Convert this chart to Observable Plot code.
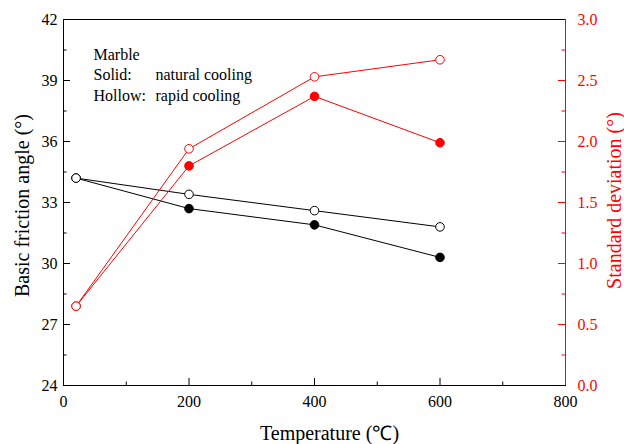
<!DOCTYPE html>
<html>
<head>
<meta charset="utf-8">
<script src="https://cdn.jsdelivr.net/npm/d3@7"></script>
<script src="https://cdn.jsdelivr.net/npm/@observablehq/plot@0.6"></script>
<style>
  html, body { margin: 0; padding: 0; background: #fff; }
</style>
</head>
<body>
<div id="chart"></div>
<script>
// Data
const temps = [20, 200, 400, 600];
// Basic friction angle (°), left axis
const angleNatural = [34.2, 32.7, 31.9, 30.3]; // solid black
const angleRapid   = [34.2, 33.4, 32.6, 31.8]; // hollow black
// Standard deviation (°), right axis
const sdNatural = [0.65, 1.80, 2.37, 1.99];    // solid red
const sdRapid   = [0.65, 1.94, 2.53, 2.67];    // hollow red

const xMajor = [0, 200, 400, 600, 800];
const xMinor = [100, 300, 500, 700];
const yMajor = [24, 27, 30, 33, 36, 39, 42];
const yMinor = [25.5, 28.5, 31.5, 34.5, 37.5, 40.5];

const annoLeft = ["Marble", "Solid:", "Hollow:"];
const annoRight = ["natural cooling", "rapid cooling"];

// map right-axis values (0–3) onto the left-axis domain (24–42)
const sdToY = d3.scaleLinear([0, 3], [24, 42]);
const yToSd = sdToY.invert;

const RED = "#ff0000";
const rows = (vals, f = v => v) => temps.map((t, i) => ({t, v: f(vals[i])}));

const aN = rows(angleNatural), aR = rows(angleRapid);
const sN = rows(sdNatural, sdToY), sR = rows(sdRapid, sdToY);

const W = 624, H = 444, mL = 63, mR = 59, mT = 19, mB = 59;
const fw = W - mL - mR, fh = H - mT - mB; // frame size in px
const MAJ = 7, MIN = 3.5;                  // inward tick lengths

const plot = Plot.plot({
  width: W,
  height: H,
  marginLeft: mL,
  marginRight: mR,
  marginTop: mT,
  marginBottom: mB,
  style: {fontFamily: "'Liberation Serif', 'Times New Roman', serif", fontSize: "16px", background: "#fff", overflow: "visible"},
  x: {domain: [0, 800]},
  y: {domain: [24, 42]},
  marks: [
    // inward ticks
    Plot.ruleX(xMajor, {x: d => d, insetTop: fh - MAJ, stroke: "black", strokeWidth: 1}),
    Plot.ruleX(xMinor, {x: d => d, insetTop: fh - MIN, stroke: "black", strokeWidth: 1}),
    Plot.ruleY(yMajor, {y: d => d, insetRight: fw - MAJ, stroke: "black", strokeWidth: 1}),
    Plot.ruleY(yMinor, {y: d => d, insetRight: fw - MIN, stroke: "black", strokeWidth: 1}),
    Plot.ruleY(yMajor, {y: d => d, insetLeft: fw - MAJ, stroke: RED, strokeWidth: 1}),
    Plot.ruleY(yMinor, {y: d => d, insetLeft: fw - MIN, stroke: RED, strokeWidth: 1}),
    Plot.frame({stroke: "black", strokeWidth: 1}),
    Plot.ruleX([800], {stroke: RED, strokeWidth: 1}),
    // tick labels
    Plot.axisX({ticks: xMajor, tickSize: 0, tickPadding: 10, tickFormat: d => String(d), label: null, color: "black"}),
    Plot.axisY({anchor: "left", ticks: yMajor, tickSize: 0, tickPadding: 6, tickFormat: d => String(d), label: null, color: "black"}),
    Plot.axisY({anchor: "right", ticks: yMajor, tickSize: 0, tickPadding: 12, tickFormat: d => yToSd(d).toFixed(1), label: null, color: RED}),
    // lines
    Plot.line(aN, {x: "t", y: "v", stroke: "black", strokeWidth: 1}),
    Plot.line(aR, {x: "t", y: "v", stroke: "black", strokeWidth: 1}),
    Plot.line(sN, {x: "t", y: "v", stroke: RED, strokeWidth: 1}),
    Plot.line(sR, {x: "t", y: "v", stroke: RED, strokeWidth: 1}),
    // markers
    Plot.dot(aN, {x: "t", y: "v", r: 4.3, fill: "black", stroke: "black", strokeWidth: 1}),
    Plot.dot(aR, {x: "t", y: "v", r: 4.3, fill: "white", stroke: "black", strokeWidth: 1}),
    Plot.dot(sN, {x: "t", y: "v", r: 4.3, fill: RED, stroke: RED, strokeWidth: 1}),
    Plot.dot(sR, {x: "t", y: "v", r: 4.3, fill: "white", stroke: RED, strokeWidth: 1}),
    // annotation
    Plot.text([annoLeft.join("\n")], {frameAnchor: "top-left", dx: 30, dy: 25.5, lineAnchor: "top", textAnchor: "start", lineHeight: 1.28, fontSize: 16, fill: "black"}),
    Plot.text([annoRight.join("\n")], {frameAnchor: "top-left", dx: 92, dy: 46, lineAnchor: "top", textAnchor: "start", lineHeight: 1.28, fontSize: 16, fill: "black"}),
    // axis titles
    Plot.text(["Temperature (℃)"], {frameAnchor: "bottom", dx: 15, dy: 54, lineAnchor: "bottom", textAnchor: "middle", fontSize: 20, fill: "black"}),
    Plot.text(["Basic friction angle (°)"], {frameAnchor: "left", dx: -41, dy: 3, rotate: -90, lineAnchor: "middle", textAnchor: "middle", fontSize: 20, fill: "black"}),
    Plot.text(["Standard deviation (°)"], {frameAnchor: "right", dx: 49, dy: -2, rotate: -90, lineAnchor: "middle", textAnchor: "middle", fontSize: 20, fill: RED})
  ]
});
document.getElementById("chart").appendChild(plot);
</script>
</body>
</html>
